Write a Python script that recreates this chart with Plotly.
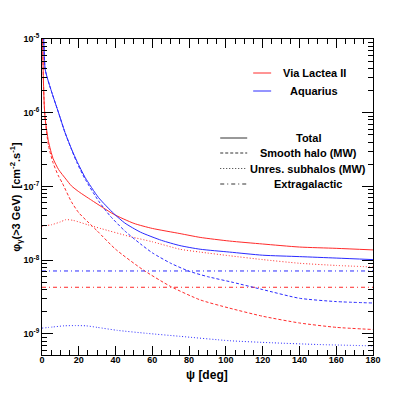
import plotly.graph_objects as go

# ---------------- data ----------------
psi_vl2_total = [0.3, 0.7, 1.2, 1.7, 3.5, 6, 9, 13, 16, 20, 27, 39, 50, 60, 75, 86, 102, 120, 140, 160, 180]
flux_vl2_total = [1.26e-5, 3.16e-6, 1.3e-6, 8.5e-7, 4.1e-7, 2.4e-7, 1.7e-7, 1.26e-7, 1.02e-7, 8.5e-8,
                  6.5e-8, 4.2e-8, 3.16e-8, 2.7e-8, 2.3e-8, 2.04e-8, 1.82e-8, 1.66e-8, 1.51e-8, 1.45e-8, 1.38e-8]

psi_vl2_smooth = [0.3, 0.7, 1.2, 1.7, 3.5, 6, 9, 11, 16, 20, 25, 30, 40, 55, 70, 86, 102, 120, 140, 160, 180]
flux_vl2_smooth = [1.26e-5, 3.16e-6, 1.3e-6, 8.2e-7, 3.6e-7, 2.1e-7, 1.38e-7, 1.12e-7, 6.2e-8, 4.4e-8,
                   3.3e-8, 2.5e-8, 1.41e-8, 7.4e-9, 4.4e-9, 2.9e-9, 2.24e-9, 1.74e-9, 1.41e-9, 1.23e-9, 1.15e-9]

psi_vl2_unres = [0, 5, 10, 13, 17, 25, 32, 48, 60, 75, 86, 102, 120, 140, 160, 180]
flux_vl2_unres = [2.91e-8, 3.02e-8, 3.31e-8, 3.55e-8, 3.47e-8, 3.02e-8, 2.69e-8, 2.09e-8, 1.78e-8,
                  1.41e-8, 1.29e-8, 1.15e-8, 1.02e-8, 9.1e-9, 8.5e-9, 8.1e-9]

psi_aq_total = [0.5, 1, 1.7, 3, 5.4, 9, 12.5, 16.2, 19, 23.5, 30.7, 39, 45, 53.6, 65, 75, 86, 102, 120, 140, 160, 180]
flux_aq_total = [2.0e-5, 8.9e-6, 3.9e-6, 2.9e-6, 1.86e-6, 1.0e-6, 5.4e-7, 3.16e-7, 2.2e-7, 1.32e-7, 7.1e-8,
                 4.3e-8, 3.2e-8, 2.4e-8, 1.86e-8, 1.58e-8, 1.41e-8, 1.29e-8, 1.17e-8, 1.12e-8, 1.07e-8, 1.02e-8]

psi_aq_smooth = [0.5, 1, 1.7, 3, 5.4, 9, 12.5, 16.2, 19, 23.5, 30.7, 37, 45, 53.6, 60, 70, 80, 90, 104, 120, 140, 160, 180]
flux_aq_smooth = [2.0e-5, 8.9e-6, 3.9e-6, 2.9e-6, 1.86e-6, 1.0e-6, 5.4e-7, 3.1e-7, 2.1e-7, 1.25e-7, 6.4e-8,
                  4.0e-8, 2.5e-8, 1.66e-8, 1.26e-8, 9.1e-9, 7.1e-9, 6.0e-9, 5.0e-9, 4.0e-9, 3.05e-9, 2.75e-9, 2.63e-9]

psi_aq_unres = [0, 6, 12, 18, 24, 30, 41, 57, 75, 102, 125, 150, 180]
flux_aq_unres = [1.20e-9, 1.245e-9, 1.29e-9, 1.30e-9, 1.29e-9, 1.23e-9, 1.12e-9, 1.02e-9, 9.3e-10,
                 8.1e-10, 7.6e-10, 7.2e-10, 6.9e-10]

psi_extragal = [0, 180]
flux_extragal_aq = [7.15e-9, 7.15e-9]
flux_extragal_vl2 = [4.3e-9, 4.3e-9]

x_ticks = [0, 20, 40, 60, 80, 100, 120, 140, 160, 180]
y_tickvals = [1e-9, 1e-8, 1e-7, 1e-6, 1e-5]
y_ticktext = ["10<sup>-9</sup>", "10<sup>-8</sup>", "10<sup>-7</sup>", "10<sup>-6</sup>", "10<sup>-5</sup>"]

simulations = ["Via Lactea II", "Aquarius"]
components = ["Total", "Smooth halo (MW)", "Unres. subhalos (MW)", "Extragalactic"]
x_title = "ψ [deg]"

# ---------------- styles ----------------
RED = "#ff2a2a"
BLUE = "#2a2aff"
DASH = "3px,2px"
DOT = "1px,2px"
DASHDOT = "4px,3px,1px,3px"
FONT = "Liberation Sans, Arial, Helvetica, sans-serif"

fig = go.Figure()

def add(x, y, color, dash):
    fig.add_trace(go.Scatter(x=x, y=y, mode="lines",
                             line=dict(color=color, width=1, dash=dash, shape="spline", smoothing=0.6),
                             showlegend=False, hoverinfo="skip"))

add(psi_vl2_total, flux_vl2_total, RED, "solid")
add(psi_vl2_smooth, flux_vl2_smooth, RED, DASH)
add(psi_vl2_unres, flux_vl2_unres, RED, DOT)
add(psi_extragal, flux_extragal_vl2, RED, DASHDOT)
add(psi_aq_total, flux_aq_total, BLUE, "solid")
add(psi_aq_smooth, flux_aq_smooth, BLUE, DASH)
add(psi_aq_unres, flux_aq_unres, BLUE, DOT)
add(psi_extragal, flux_extragal_aq, BLUE, DASHDOT)

# page has an 8px body margin -> figure is drawn offset by 8px
OFF = 8
W, H = 399, 379
AX_L, AX_R, AX_T, AX_B = 41.5, 373, 39, 355   # plot area in window pixels
L = AX_L - OFF
T = AX_T - OFF
R = W - (AX_R - OFF)
B = H - (AX_B - OFF)
pw, ph = AX_R - AX_L, AX_B - AX_T

def px(xp):  # window pixel x -> paper
    return (xp - AX_L) / pw

def py(yp):  # window pixel y -> paper
    return 1 - (yp - AX_T) / ph

shapes = []
annotations = []
# legend 1 (simulations)
for name, col, ypix in zip(simulations, [RED, BLUE], [73, 91]):
    shapes.append(dict(type="line", xref="paper", yref="paper", x0=px(253), x1=px(271), y0=py(ypix), y1=py(ypix),
                       line=dict(color=col, width=1)))
    annotations.append(dict(text="<b>%s</b>" % name, xref="paper", yref="paper", x=px(314), y=py(ypix),
                            showarrow=False, xanchor="center", yanchor="middle",
                            font=dict(family=FONT, size=11, color="black")))
# legend 2 (components)
for name, dsh, ypix in zip(components, ["solid", DASH, DOT, DASHDOT], [138, 153, 168.5, 184]):
    shapes.append(dict(type="line", xref="paper", yref="paper", x0=px(220), x1=px(247), y0=py(ypix), y1=py(ypix),
                       line=dict(color="#333333", width=1, dash=dsh)))
    annotations.append(dict(text="<b>%s</b>" % name, xref="paper", yref="paper", x=px(308), y=py(ypix),
                            showarrow=False, xanchor="center", yanchor="middle",
                            font=dict(family=FONT, size=11, color="black")))
# x axis title
annotations.append(dict(text="<b>%s</b>" % x_title, xref="paper", yref="paper", x=px(207), y=py(375),
                        showarrow=False, xanchor="center", yanchor="middle",
                        font=dict(family=FONT, size=12, color="black")))

fig.update_layout(
    width=W, height=H,
    margin=dict(l=L, r=R, t=T, b=B, pad=0),
    paper_bgcolor="white", plot_bgcolor="white",
    showlegend=False,
    font=dict(family=FONT, color="black"),
    shapes=shapes,
    annotations=annotations,
)
fig.update_xaxes(
    range=[0, 180], tickvals=x_ticks, ticktext=["<b>%d</b>" % v for v in x_ticks],
    ticks="inside", ticklen=9, tickwidth=1, tickcolor="black",
    minor=dict(ticks="inside", ticklen=5, dtick=5, tickcolor="black", tickwidth=1),
    showline=True, linecolor="black", linewidth=1, mirror="ticks",
    showgrid=False, zeroline=False, automargin=False,
    tickfont=dict(size=9, family=FONT), ticklabelstandoff=-4,
)
fig.update_yaxes(
    type="log", range=[-9.285, -5], tickvals=y_tickvals, ticktext=["<b>%s</b>" % t for t in y_ticktext],
    ticks="inside", ticklen=11, tickwidth=1, tickcolor="black",
    minor=dict(ticks="inside", ticklen=5, dtick="D1", tickcolor="black", tickwidth=1),
    showline=True, linecolor="black", linewidth=1, mirror="ticks",
    showgrid=False, zeroline=False, automargin=False,
    tickfont=dict(size=9, family=FONT),
    title=dict(text="<b>φ<sub>γ</sub>(>3 GeV)  [cm<sup>-2</sup>.s<sup>-1</sup>]</b>", font=dict(size=11, family=FONT), standoff=4),
)

fig.write_html("out.html")
